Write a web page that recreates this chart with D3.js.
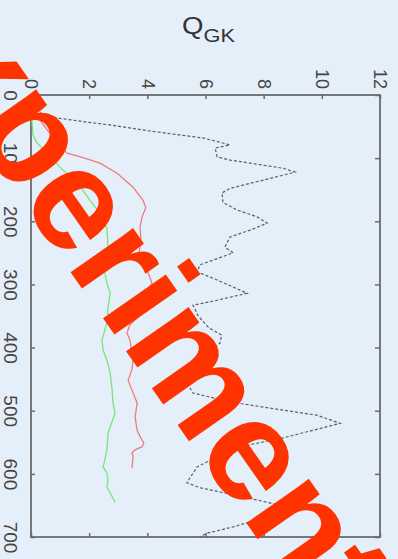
<!DOCTYPE html>
<html>
<head>
<meta charset="utf-8">
<script src="https://cdn.jsdelivr.net/npm/d3@7"></script>
<style>
  html, body { margin: 0; padding: 0; background: #e5effa; }
  svg { display: block; }
</style>
</head>
<body>
<svg id="chart" width="398" height="559"></svg>
<script>
// Axis ticks
const qTicks = [0, 2, 4, 6, 8, 10, 12];
const tTicks = [0, 100, 200, 300, 400, 500, 600, 700];

// Gray dashed series: time and Q_GK
const tGray = [0, 8, 24, 32, 37, 43, 48, 57, 64, 68, 72, 79, 84, 98, 103, 108, 116, 122, 127, 140, 148, 155, 170, 182, 193, 203, 214, 225, 241, 250, 269, 280, 293, 314, 325, 333, 350, 368, 380, 393, 401, 420, 440, 456, 472, 486, 499, 507, 520, 543, 557, 573, 589, 614, 622, 633, 645, 653, 668, 684, 694, 700];
const qGray = [0, 0.07, 0.21, 0.41, 1.0, 1.93, 2.82, 4.09, 5.23, 5.91, 6.26, 6.84, 6.33, 6.40, 6.84, 7.53, 8.67, 9.08, 8.67, 7.53, 6.84, 6.57, 6.60, 7.08, 7.77, 8.12, 7.53, 6.84, 6.67, 6.95, 5.81, 5.71, 6.40, 7.43, 6.40, 5.57, 5.75, 6.10, 6.55, 6.50, 6.26, 5.81, 5.47, 5.36, 5.57, 6.84, 8.67, 9.83, 10.63, 8.67, 7.19, 6.40, 5.71, 5.36, 5.81, 6.95, 8.12, 8.80, 8.12, 6.95, 6.05, 5.81];

// Red series
const tRed = [0, 16, 40, 72, 92, 99, 108, 124, 146, 167, 178, 193, 209, 230, 250, 266, 277, 298, 317, 352, 364, 377, 388, 420, 435, 452, 467, 488, 510, 531, 541, 551, 557, 562, 567, 573, 591];
const qRed = [0, 0.10, 0.31, 0.83, 1.24, 1.79, 2.37, 2.96, 3.51, 3.85, 3.95, 3.82, 3.75, 3.78, 3.72, 3.75, 3.99, 4.16, 3.92, 3.68, 3.40, 3.30, 3.40, 3.51, 3.47, 3.34, 3.47, 3.65, 3.58, 3.65, 3.75, 3.88, 3.82, 3.58, 3.47, 3.51, 3.47];

// Green series
const tGreen = [0, 40, 64, 76, 92, 119, 138, 167, 187, 211, 241, 246, 282, 298, 314, 336, 361, 388, 404, 420, 440, 467, 488, 504, 526, 535, 562, 578, 589, 599, 610, 621, 630, 645];
const qGreen = [0, 0.03, 0.07, 0.21, 0.55, 1.10, 1.58, 2.03, 2.37, 2.61, 2.65, 2.61, 2.54, 2.61, 2.72, 2.65, 2.61, 2.44, 2.48, 2.61, 2.72, 2.79, 2.82, 2.89, 2.72, 2.65, 2.61, 2.54, 2.48, 2.61, 2.65, 2.61, 2.72, 2.89];

const W = 398, H = 559;
const plot = { left: 31, right: 380, top: 95, bottom: 537 };
const svg = d3.select("#chart");

svg.append("rect").attr("width", W).attr("height", H).attr("fill", "#e5effa");

const x = d3.scaleLinear().domain([0, 12]).range([plot.left, plot.right]);
const y = d3.scaleLinear().domain([0, 700]).range([plot.top, plot.bottom]);

const axisColor = "#6b6b6b";
const labelColor = "#454545";
const fontFam = "'Liberation Sans', Arial, sans-serif";

// Top axis, labels turned a quarter clockwise
const gTop = svg.append("g").attr("transform", `translate(0,${plot.top})`)
  .call(d3.axisTop(x).tickValues(qTicks).tickSize(-4).tickPadding(7));
gTop.selectAll("text")
  .attr("font-family", fontFam).attr("font-size", 18).attr("fill", labelColor)
  .attr("text-anchor", "end").attr("y", 0).attr("dy", "0.35em")
  .attr("transform", "translate(0,-6) rotate(90)");

// Left axis, labels turned the same way
const gLeft = svg.append("g").attr("transform", `translate(${plot.left},0)`)
  .call(d3.axisLeft(y).tickValues(tTicks).tickSize(-4));
gLeft.selectAll("text")
  .attr("font-family", fontFam).attr("font-size", 19).attr("fill", labelColor)
  .attr("text-anchor", "middle").attr("x", 0).attr("dy", 0)
  .attr("transform", "translate(-27,0) rotate(90)");

// Mirrored ticks on bottom and right
svg.append("g").attr("transform", `translate(0,${plot.bottom})`)
  .call(d3.axisBottom(x).tickValues(qTicks).tickSize(-4).tickFormat(""));
svg.append("g").attr("transform", `translate(${plot.right},0)`)
  .call(d3.axisRight(y).tickValues(tTicks).tickSize(-5).tickFormat(""));

svg.selectAll(".domain").attr("stroke", "none");
svg.selectAll(".tick line").attr("stroke", axisColor).attr("stroke-width", 1.5);

// Plot frame
svg.append("rect")
  .attr("x", plot.left).attr("y", plot.top)
  .attr("width", plot.right - plot.left).attr("height", plot.bottom - plot.top)
  .attr("fill", "none").attr("stroke", axisColor).attr("stroke-width", 1.8);

// Series lines: time runs down the page, Q_GK to the right
const line = d3.line().x(d => x(d[1])).y(d => y(d[0]));
const zip = (a, b) => a.map((v, i) => [v, b[i]]);

svg.append("path").datum(zip(tGreen, qGreen))
  .attr("d", line).attr("fill", "none")
  .attr("stroke", "#76e676").attr("stroke-width", 1.3);

svg.append("path").datum(zip(tRed, qRed))
  .attr("d", line).attr("fill", "none")
  .attr("stroke", "#f27a7a").attr("stroke-width", 1.3);

svg.append("path").datum(zip(tGray, qGray))
  .attr("d", line).attr("fill", "none")
  .attr("stroke", "#5e5e5e").attr("stroke-width", 1.2)
  .attr("stroke-dasharray", "3,2");

// Title Q_GK
const title = svg.append("g").attr("transform", "translate(182,34) scale(1.15,1)");
const tt = title.append("text")
  .attr("font-family", fontFam).attr("fill", "#333").attr("font-size", 24);
tt.append("tspan").text("Q");
tt.append("tspan").attr("font-size", 19).attr("dy", 8).text("GK");

// Diagonal stamp
svg.append("text")
  .attr("font-family", fontFam).attr("font-weight", "bold")
  .attr("font-size", 145).attr("fill", "#ff3300")
  .attr("transform", "translate(-134,-20) rotate(55)")
  .text("Experiment");
</script>
</body>
</html>
